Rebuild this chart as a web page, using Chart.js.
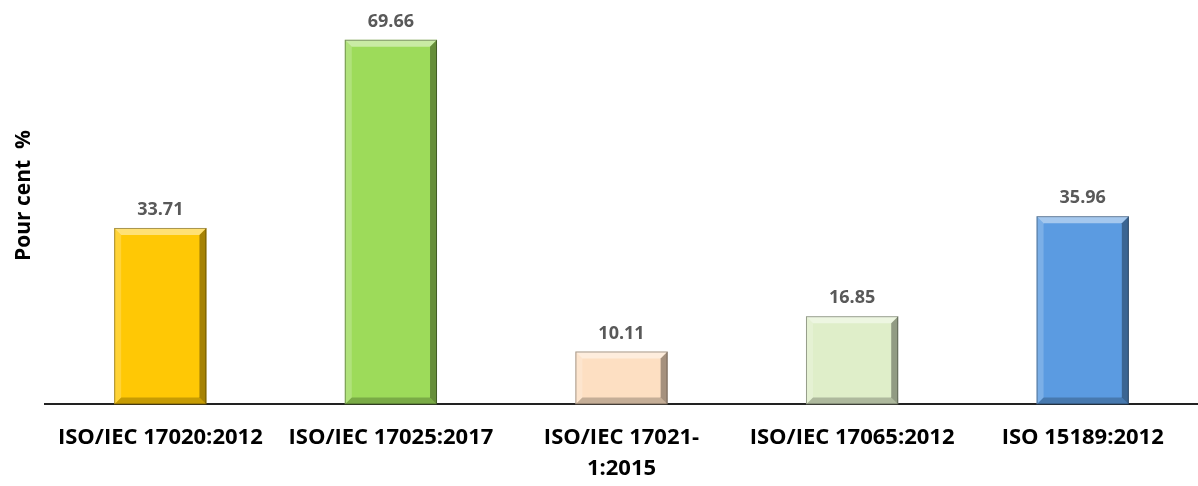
<!DOCTYPE html>
<html>
<head>
<meta charset="utf-8">
<script src="https://cdn.jsdelivr.net/npm/chart.js@4/dist/chart.umd.min.js"></script>
<style>
  html, body { margin: 0; padding: 0; background: #fff; }
  #wrap { width: 1198px; height: 486px; position: relative; }
</style>
</head>
<body>
<div id="wrap"><canvas id="chart"></canvas></div>
<script>
// data
const categories = [
    'ISO/IEC 17020:2012',
    'ISO/IEC 17025:2017',
    ['ISO/IEC 17021-', '1:2015'],
    'ISO/IEC 17065:2012',
    'ISO 15189:2012'
];
const values = [33.71, 69.66, 10.11, 16.85, 35.96];
const barColors = ['#FFC805', '#9DDB5A', '#FDDFC2', '#DFEEC9', '#5B9BE1'];
const yTitle = 'Pour cent  %';

// bevel look on each bar (like the office "bevel" shape effect)
const bevelPlugin = {
    id: 'bevel',
    afterDatasetsDraw(chart) {
        const ctx = chart.ctx;
        const meta = chart.getDatasetMeta(0);
        const b = 7;
        meta.data.forEach(bar => {
            const l = bar.x - bar.width / 2, r = bar.x + bar.width / 2;
            const t = bar.y, bt = bar.base;
            const poly = (pts, fill) => {
                ctx.beginPath();
                ctx.moveTo(pts[0][0], pts[0][1]);
                pts.slice(1).forEach(p => ctx.lineTo(p[0], p[1]));
                ctx.closePath();
                ctx.fillStyle = fill;
                ctx.fill();
            };
            ctx.save();
            poly([[l, t], [r, t], [r - b, t + b], [l + b, t + b]], 'rgba(255,255,255,0.45)');
            poly([[l, t], [l + b, t + b], [l + b, bt - b], [l, bt]], 'rgba(255,255,255,0.2)');
            poly([[r, t], [r, bt], [r - b, bt - b], [r - b, t + b]], 'rgba(0,0,0,0.35)');
            poly([[l, bt], [r, bt], [r - b, bt - b], [l + b, bt - b]], 'rgba(0,0,0,0.22)');
            ctx.strokeStyle = 'rgba(0,0,0,0.35)';
            ctx.lineWidth = 1;
            ctx.strokeRect(l + 0.5, t + 0.5, bar.width - 1, bt - t - 1);
            ctx.restore();
        });
    }
};

// value labels above the bars + rotated y title
const valueLabels = {
    id: 'valueLabels',
    afterDatasetsDraw(chart) {
        const ctx = chart.ctx;
        const meta = chart.getDatasetMeta(0);
        const area = chart.chartArea;
        ctx.save();
        ctx.font = 'bold 18px "Open Sans"';
        ctx.fillStyle = '#595959';
        ctx.textAlign = 'center';
        ctx.textBaseline = 'bottom';
        meta.data.forEach((bar, i) => {
            ctx.fillText(values[i].toFixed(2), bar.x, bar.y - 9);
        });
        ctx.restore();

        ctx.save();
        ctx.translate(area.left - 21, area.top + (area.bottom - area.top) * 0.43);
        ctx.rotate(-Math.PI / 2);
        ctx.font = 'bold 21px "Open Sans"';
        ctx.fillStyle = '#000';
        ctx.textAlign = 'center';
        ctx.textBaseline = 'middle';
        ctx.fillText(yTitle, 0, 0);
        ctx.restore();
    }
};

new Chart(document.getElementById('chart'), {
    type: 'bar',
    data: {
        labels: categories,
        datasets: [{
            data: values,
            backgroundColor: barColors,
            borderWidth: 0,
            barPercentage: 0.4,
            categoryPercentage: 1
        }]
    },
    options: {
        responsive: true,
        maintainAspectRatio: false,
        animation: false,
        layout: { padding: { top: 38, right: 0, left: 45, bottom: -16 } },
        plugins: {
            legend: { display: false },
            tooltip: { enabled: false }
        },
        scales: {
            x: {
                grid: { display: false, drawTicks: false },
                border: { color: '#222', width: 2 },
                ticks: {
                    color: '#000',
                    padding: 18,
                    maxRotation: 0,
                    autoSkip: false,
                    font: { family: 'Open Sans', size: 22, weight: 'bold', lineHeight: 1.4 }
                }
            },
            y: {
                display: false,
                min: 0,
                max: 70
            }
        }
    },
    plugins: [bevelPlugin, valueLabels]
});
</script>
</body>
</html>
